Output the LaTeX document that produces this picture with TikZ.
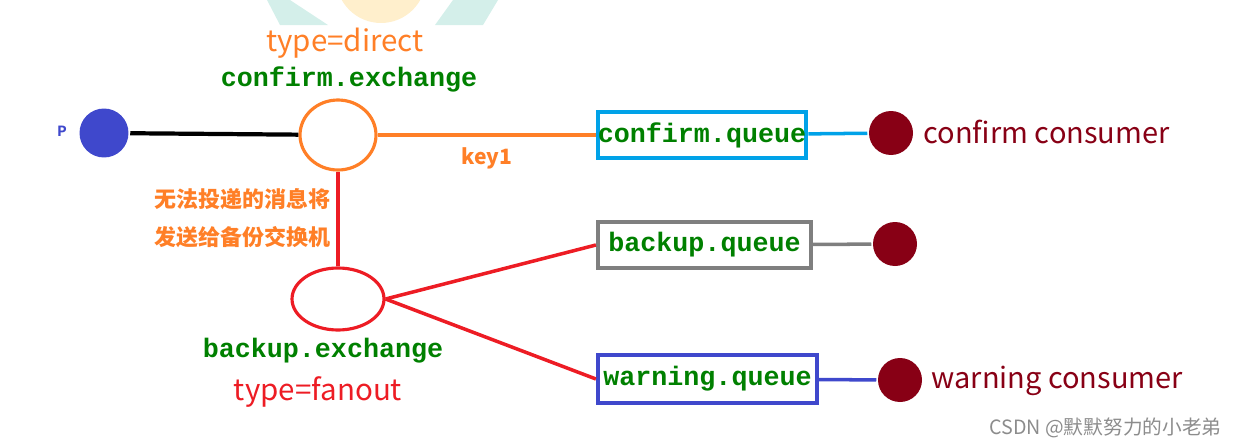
\documentclass[tikz,border=0pt]{standalone}
\usepackage{fontspec}
\setmainfont{Noto Sans CJK SC}
\setmonofont{Liberation Mono}
\newfontfamily\cjk{Noto Sans CJK SC}
\usetikzlibrary{shapes.geometric}

\definecolor{xorange}{HTML}{FF7F27}
\definecolor{xred}{HTML}{ED1C24}
\definecolor{xgreen}{HTML}{008000}
\definecolor{xcyan}{HTML}{00A2E8}
\definecolor{xgray}{HTML}{7F7F7F}
\definecolor{xblue}{HTML}{3F48CC}
\definecolor{xdark}{HTML}{880015}
\definecolor{wteal}{HTML}{D4EFEA}
\definecolor{wyellow}{HTML}{FFEFCC}

\begin{document}
\begin{tikzpicture}
  [x=0.02cm,y=-0.02cm,line width=2pt]

	\tikzset{
	dot/.style = {circle,fill=xdark,minimum size=0.88cm,inner sep=0pt},
	exch/.style = {ellipse,draw,line width=1.8pt,inner sep=0pt},
	queue/.style = {draw,line width=2.4pt,minimum height=0.92cm,inner sep=0pt,
	  font=\ttfamily\bfseries\fontsize{15.2}{15}\selectfont,text=xgreen},
	exname/.style = {font=\ttfamily\bfseries\fontsize{15.2}{15}\selectfont,text=xgreen},
	kind/.style = {font=\fontsize{16.8}{17}\selectfont},
	user/.style = {anchor=west,text=xdark,font=\fontsize{16.5}{17}\selectfont}
	}

  \useasboundingbox (0,0) rectangle (1235,447);

  % watermark
  \fill[wteal] (267,0) -- (290,0) -- (328,25) -- (280,25) -- cycle;
  \fill[wteal] (453,0) -- (498,0) -- (483,25) -- (435,25) -- cycle;
  \begin{scope}
    \clip (300,0) rectangle (460,30);
    \fill[wyellow] (381,-22) circle [radius=0.9cm];
  \end{scope}

  \node[circle,fill=xblue,minimum size=0.98cm,inner sep=0pt] (p) at (104,133) {};
  \node[text=xblue,font=\ttfamily\bfseries\fontsize{9}{9}\selectfont] (plabel) at (62,131) {P};

  \node[exch,draw=xorange,minimum width=1.52cm,minimum height=1.4cm] (cx) at (338,135) {};
  \node[exch,draw=xred,minimum width=1.84cm,minimum height=1.24cm] (bx) at (338,299) {};

  \node[kind,text=xorange] (ctype) at (345,43) {type=direct};
  \node[exname] (cname) at (349,79) {confirm.exchange};
  \node[exname] (bname) at (323,351) {backup.exchange};
  \node[kind,text=xred] (btype) at (318,392) {type=fanout};

  \node[anchor=east,text=xorange,font=\cjk\bfseries\fontsize{12.5}{13}\selectfont] (note1) at (338,199) {无法投递的消息将};
  \node[anchor=east,text=xorange,font=\cjk\bfseries\fontsize{12.5}{13}\selectfont] (note2) at (338,237) {发送给备份交换机};

  \node[queue,draw=xcyan,minimum width=4.16cm] (cq) at (702,135) {confirm.queue};
  \node[queue,draw=xgray,minimum width=4.26cm] (bq) at (704.5,245) {backup.queue};
  \node[queue,draw=xblue,minimum width=4.38cm,minimum height=0.96cm] (wq) at (707.5,379) {warning.queue};

  \node[dot] (c1) at (891,133) {};
  \node[dot] (b1) at (895,244) {};
  \node[dot] (w1) at (900,380) {};

  \node[user] (cuser) at (916,132) {confirm consumer};
  \node[user] (wuser) at (924,381) {warning consumer};

  \draw[line width=2.4pt] (p) -- (cx);
  \draw[xorange] (cx) -- node[below=3pt,font=\bfseries\fontsize{12}{12}\selectfont] (key) {key1} (cq);
  \draw[xred] (cx) -- (bx);
  \foreach \to in {bq,wq}
    \draw[xred] (bx.east) -- (\to.west);
  \foreach \from/\to/\col in {cq/c1/xcyan,bq/b1/xgray,wq/w1/xblue}
    \draw[\col] (\from) -- (\to);

  \node[anchor=east,text=black!45,font=\cjk\fontsize{11.2}{12}\selectfont] (mark) at (1229,428) {CSDN @默默努力的小老弟};

\end{tikzpicture}
\end{document}
